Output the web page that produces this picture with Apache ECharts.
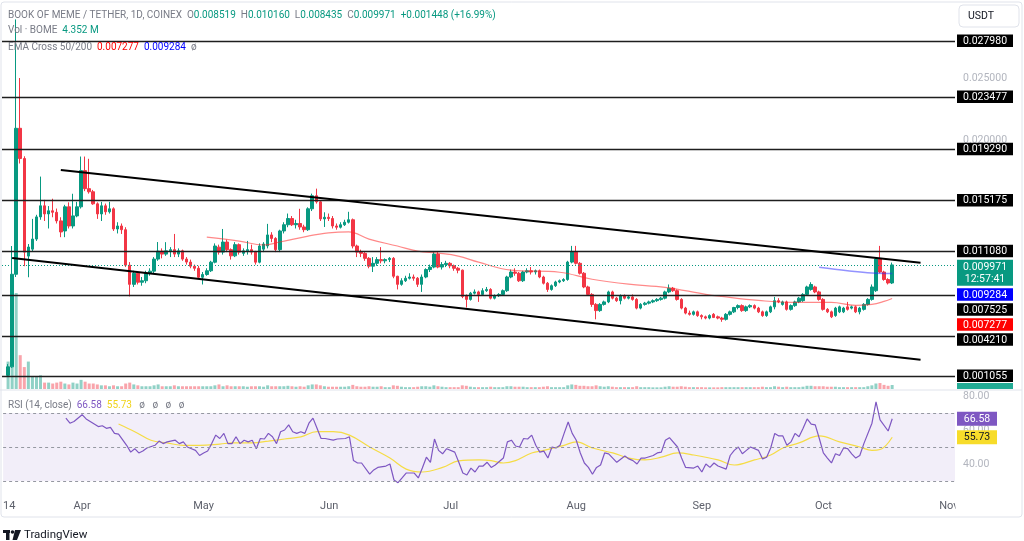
<!DOCTYPE html>
<html><head><meta charset="utf-8">
<script src="https://cdn.jsdelivr.net/npm/echarts@6/dist/echarts.min.js"></script>
<style>html,body{margin:0;padding:0;background:#fff}#c{width:1024px;height:541px}</style>
</head><body><div id="c"></div>
<script>
// ---------- DATA ----------
const firstDay = [2024, 2, 13];   // category axis starts 13 Mar 2024 (first candle 14 Mar)
const nCats = 235;                // through 2 Nov 2024
const dates = [];
for (let k = 0; k < nCats; k++) { dates.push(new Date(Date.UTC(firstDay[0], firstDay[1], firstDay[2] + k)).toISOString().slice(0, 10)); }

// daily candles [open, high, low, close], 14 Mar .. 18 Oct 2024
const candles = [
[0.00110,0.00200,0.00100,0.00178],[0.00178,0.01149,0.00170,0.00922],[0.00922,0.02970,0.00900,0.02095],[0.02095,0.02499,0.01812,0.01852],[0.01852,0.01870,0.00987,0.01100],
[0.01068,0.01165,0.00898,0.01141],[0.01124,0.01367,0.01108,0.01205],[0.01205,0.01400,0.01190,0.01383],[0.01383,0.01707,0.01360,0.01472],[0.01472,0.01520,0.01350,0.01407],
[0.01407,0.01470,0.01290,0.01432],[0.01432,0.01529,0.01380,0.01420],[0.01420,0.01450,0.01330,0.01351],[0.01351,0.01380,0.01220,0.01262],[0.01270,0.01480,0.01220,0.01464],
[0.01464,0.01500,0.01290,0.01310],[0.01310,0.01569,0.01290,0.01391],[0.01391,0.01504,0.01380,0.01464],[0.01464,0.01868,0.01450,0.01755],[0.01755,0.01868,0.01590,0.01610],
[0.01610,0.01850,0.01570,0.01585],[0.01585,0.01600,0.01480,0.01488],[0.01488,0.01500,0.01367,0.01407],[0.01407,0.01504,0.01350,0.01472],[0.01472,0.01490,0.01400,0.01424],
[0.01424,0.01504,0.01410,0.01448],[0.01448,0.01460,0.01270,0.01286],[0.01286,0.01340,0.01250,0.01310],[0.01310,0.01330,0.01246,0.01280],[0.01280,0.01300,0.00980,0.00995],
[0.00995,0.01020,0.00744,0.00841],[0.00841,0.00950,0.00820,0.00930],[0.00930,0.00940,0.00840,0.00858],[0.00858,0.00900,0.00830,0.00870],[0.00870,0.00950,0.00850,0.00930],
[0.00930,0.00970,0.00910,0.00947],[0.00947,0.01060,0.00930,0.01044],[0.01044,0.01181,0.01030,0.01108],[0.01108,0.01130,0.01050,0.01084],[0.01084,0.01180,0.01070,0.01110],
[0.01110,0.01140,0.01060,0.01120],[0.01120,0.01246,0.01060,0.01084],[0.01084,0.01130,0.01060,0.01110],[0.01110,0.01120,0.01030,0.01044],[0.01044,0.01060,0.01000,0.01020],
[0.01020,0.01040,0.00970,0.00987],[0.00987,0.01000,0.00950,0.00970],[0.00970,0.00990,0.00890,0.00898],[0.00898,0.00940,0.00840,0.00920],[0.00920,0.00970,0.00910,0.00950],
[0.00950,0.01030,0.00940,0.01019],[0.01019,0.01170,0.01010,0.01149],[0.01140,0.01160,0.01080,0.01100],[0.01100,0.01286,0.01080,0.01181],[0.01181,0.01200,0.01100,0.01120],
[0.01120,0.01130,0.01040,0.01070],[0.01070,0.01180,0.01060,0.01160],[0.01160,0.01170,0.01080,0.01100],[0.01090,0.01130,0.01070,0.01110],[0.01110,0.01190,0.01080,0.01120],
[0.01120,0.01160,0.01080,0.01100],[0.01100,0.01110,0.01000,0.01019],[0.01019,0.01170,0.01010,0.01149],[0.01124,0.01180,0.01100,0.01165],[0.01150,0.01327,0.01130,0.01238],
[0.01238,0.01260,0.01180,0.01210],[0.01210,0.01220,0.01100,0.01120],[0.01120,0.01280,0.01100,0.01270],[0.01270,0.01340,0.01250,0.01320],[0.01320,0.01410,0.01300,0.01370],
[0.01370,0.01390,0.01310,0.01320],[0.01320,0.01360,0.01290,0.01330],[0.01330,0.01448,0.01280,0.01302],[0.01302,0.01320,0.01260,0.01280],[0.01280,0.01460,0.01270,0.01448],
[0.01448,0.01570,0.01430,0.01553],[0.01553,0.01610,0.01490,0.01504],[0.01504,0.01510,0.01350,0.01367],[0.01367,0.01420,0.01302,0.01380],[0.01380,0.01410,0.01350,0.01370],
[0.01370,0.01390,0.01290,0.01310],[0.01310,0.01330,0.01280,0.01300],[0.01300,0.01340,0.01290,0.01320],[0.01320,0.01360,0.01310,0.01340],[0.01340,0.01424,0.01330,0.01360],
[0.01360,0.01370,0.01130,0.01149],[0.01149,0.01160,0.01060,0.01100],[0.01100,0.01120,0.01060,0.01090],[0.01090,0.01100,0.01030,0.01050],[0.01050,0.01060,0.00970,0.00987],
[0.00987,0.01060,0.00940,0.01010],[0.01010,0.01060,0.00990,0.01040],[0.01040,0.01140,0.01010,0.01030],[0.01030,0.01050,0.01010,0.01040],[0.01040,0.01060,0.01020,0.01050],
[0.01050,0.01060,0.00890,0.00906],[0.00906,0.00910,0.00800,0.00841],[0.00841,0.00890,0.00830,0.00870],[0.00870,0.00910,0.00860,0.00890],[0.00890,0.00930,0.00880,0.00900],
[0.00900,0.00920,0.00870,0.00890],[0.00890,0.00900,0.00820,0.00841],[0.00841,0.00920,0.00780,0.00900],[0.00900,0.00970,0.00890,0.00960],[0.00960,0.01000,0.00940,0.00980],
[0.00980,0.01100,0.00970,0.01084],[0.01084,0.01100,0.00970,0.00980],[0.00980,0.01020,0.00960,0.01000],[0.01000,0.01030,0.00980,0.01010],[0.01010,0.01020,0.00970,0.00990],
[0.00990,0.01000,0.00950,0.00970],[0.00970,0.00980,0.00930,0.00955],[0.00955,0.00960,0.00730,0.00744],[0.00750,0.00760,0.00655,0.00720],[0.00720,0.00780,0.00710,0.00770],
[0.00770,0.00800,0.00760,0.00780],[0.00780,0.00790,0.00700,0.00760],[0.00760,0.00810,0.00750,0.00790],[0.00790,0.00820,0.00780,0.00800],[0.00800,0.00810,0.00720,0.00730],
[0.00730,0.00760,0.00720,0.00750],[0.00750,0.00770,0.00740,0.00760],[0.00760,0.00800,0.00750,0.00790],[0.00790,0.00910,0.00780,0.00900],[0.00900,0.00960,0.00890,0.00940],
[0.00940,0.00970,0.00910,0.00930],[0.00930,0.00940,0.00860,0.00870],[0.00870,0.00950,0.00860,0.00940],[0.00940,0.00970,0.00930,0.00950],[0.00950,0.00980,0.00920,0.00940],
[0.00940,0.00960,0.00920,0.00950],[0.00950,0.00960,0.00890,0.00900],[0.00900,0.00910,0.00840,0.00850],[0.00850,0.00860,0.00780,0.00800],[0.00800,0.00840,0.00790,0.00830],
[0.00830,0.00870,0.00820,0.00860],[0.00860,0.00880,0.00850,0.00870],[0.00870,0.00890,0.00860,0.00880],[0.00880,0.01030,0.00870,0.01020],[0.01020,0.01150,0.01010,0.01100],
[0.01100,0.01150,0.01000,0.01010],[0.01010,0.01020,0.00920,0.00930],[0.00930,0.00940,0.00810,0.00820],[0.00820,0.00830,0.00750,0.00760],[0.00760,0.00770,0.00660,0.00680],
[0.00680,0.00690,0.00560,0.00630],[0.00630,0.00690,0.00620,0.00680],[0.00680,0.00710,0.00670,0.00700],[0.00700,0.00790,0.00690,0.00780],[0.00780,0.00790,0.00720,0.00730],
[0.00730,0.00740,0.00700,0.00710],[0.00710,0.00760,0.00680,0.00750],[0.00750,0.00760,0.00720,0.00730],[0.00730,0.00750,0.00720,0.00740],[0.00740,0.00760,0.00710,0.00720],
[0.00720,0.00730,0.00640,0.00650],[0.00650,0.00690,0.00640,0.00680],[0.00680,0.00700,0.00670,0.00690],[0.00690,0.00710,0.00680,0.00700],[0.00700,0.00720,0.00690,0.00710],
[0.00710,0.00730,0.00700,0.00720],[0.00720,0.00740,0.00710,0.00730],[0.00730,0.00790,0.00720,0.00780],[0.00780,0.00840,0.00770,0.00810],[0.00810,0.00820,0.00780,0.00790],
[0.00790,0.00800,0.00710,0.00720],[0.00720,0.00730,0.00640,0.00650],[0.00650,0.00660,0.00600,0.00610],[0.00610,0.00630,0.00590,0.00600],[0.00600,0.00630,0.00590,0.00620],
[0.00620,0.00630,0.00580,0.00590],[0.00590,0.00600,0.00560,0.00580],[0.00580,0.00590,0.00560,0.00570],[0.00570,0.00600,0.00560,0.00590],[0.00600,0.00610,0.00570,0.00575],
[0.00580,0.00590,0.00560,0.00570],[0.00570,0.00580,0.00540,0.00560],[0.00560,0.00610,0.00550,0.00600],[0.00600,0.00630,0.00590,0.00620],[0.00620,0.00660,0.00610,0.00655],
[0.00655,0.00680,0.00640,0.00670],[0.00670,0.00680,0.00620,0.00630],[0.00630,0.00670,0.00620,0.00660],[0.00660,0.00680,0.00650,0.00670],[0.00670,0.00680,0.00640,0.00650],
[0.00650,0.00660,0.00610,0.00620],[0.00620,0.00630,0.00580,0.00590],[0.00590,0.00630,0.00580,0.00620],[0.00620,0.00670,0.00610,0.00660],[0.00660,0.00740,0.00640,0.00710],
[0.00710,0.00730,0.00690,0.00700],[0.00680,0.00710,0.00670,0.00700],[0.00700,0.00710,0.00630,0.00640],[0.00640,0.00680,0.00630,0.00670],[0.00670,0.00710,0.00660,0.00700],
[0.00700,0.00740,0.00690,0.00730],[0.00710,0.00770,0.00700,0.00760],[0.00760,0.00830,0.00750,0.00820],[0.00800,0.00858,0.00790,0.00840],[0.00820,0.00830,0.00770,0.00780],
[0.00780,0.00790,0.00710,0.00720],[0.00720,0.00730,0.00630,0.00640],[0.00640,0.00650,0.00610,0.00620],[0.00620,0.00630,0.00570,0.00580],[0.00590,0.00660,0.00580,0.00650],
[0.00620,0.00670,0.00610,0.00660],[0.00620,0.00660,0.00610,0.00650],[0.00660,0.00700,0.00630,0.00640],[0.00650,0.00670,0.00640,0.00660],[0.00660,0.00670,0.00610,0.00620],
[0.00620,0.00660,0.00600,0.00650],[0.00640,0.00690,0.00630,0.00680],[0.00680,0.00730,0.00670,0.00720],[0.00720,0.00840,0.00710,0.00820],[0.00790,0.01060,0.00780,0.01044],
[0.01044,0.01150,0.00930,0.00940],[0.00940,0.00950,0.00870,0.00880],[0.00880,0.00890,0.00840,0.008519],[0.008519,0.010160,0.008435,0.009971]
];
// volume, millions of BOME
const volumes = [
30,24,105,37,24,30,14,14,15,7,7,6,7,8,6,5,7,6,10,
8,6,6,5,4,4,3,4,3,3,6,7,5,4,3,3,3,4,5,3,3,3,
4,3,3,3,3,3,3,3,3,3,4,5,3,4,3,3,3,3,2.5,3,
3,3,2.5,4,3,3,3,3,3.5,3,2.5,3,2.5,4,5,5,4,3,2.5,2.5,
2.5,2.5,2.5,3,4.5,3,2.5,2.5,3,2.5,2.5,3,2,2,4,3.5,2.5,2,2,2,
2.5,3,3,2.5,4,3,2.5,2,2,2,2,4,3.5,2.5,2,2,2,2,2.5,2,
2,2,3,3,2.5,2.5,2.5,2,2,2,2,2.5,3,2,2,2,2,4,5,4.5,
3.5,3.5,3,3,4,3,2.5,3,2.5,2,2,2,2,2,3,2,2,2,1.8,1.8,
1.8,2.5,3,2.5,2.5,3,2.5,2,2,2,2,1.8,1.8,1.8,1.8,2,2,2,2,2,
2,2,2,2,2,2.5,2,2,3,2.5,2,2.5,2,2,2,2.5,3.5,3.5,3,3,
3,2.5,2.5,2.5,2,2,2,2,2,2,2,3,4,6,6.5,4.5,3.5,4.352
];
// [candle index, value]
const ema50Pts = [[49,0.01221],[57,0.01189],[63,0.01157],[67,0.01181],[74,0.01229],[79,0.01254],[84,0.01262],[89,0.01205],[96,0.01149],[101,0.01108],[106,0.01092],[111,0.01068],[116,0.01019],[124,0.00955],[136,0.00938],[144,0.00882],[153,0.00842],[162,0.00817],[172,0.00761],[176,0.00744],[185,0.00712],[193,0.00696],[203,0.00696],[209,0.00672],[213,0.00680],[216,0.00704],[218,0.007277]];
const ema200Pts = [[200,0.00978],[207,0.00950],[213,0.00932],[218,0.009284]];
const rsiPts = [[14,67],[15,64],[16,65],[18,69],[19,66.5],[20,65],[22,62],[23,62.5],[24,61],[25,61.5],[26,58],[27,57.6],[29,51],[30,47],[31,49],[32,46.5],[33,47.6],[34,49.4],[36,51],[37,53.5],[38,52],[39,53],[41,54],[42,52],[43,53],[44,50],[45,49],[46,48],[47,45],[48,46.5],[49,47.6],[50,52],[51,57],[52,55],[53,58],[54,52],[55,52],[56,56],[57,52],[58,54],[59,53],[60,54],[61,49],[62,55],[63,54.7],[64,58],[65,56],[66,52],[67,59],[68,60],[69,63],[70,59],[71,58],[72,59],[73,58],[74,64],[75,67],[76,61],[77,55],[78,55],[80,54],[81,54.7],[83,55],[84,56],[85,42],[86,40.6],[87,40.6],[89,34],[90,36.5],[91,38],[93,38.8],[94,40],[95,30.6],[96,29],[97,31.8],[98,34.7],[100,34.7],[101,31.8],[102,37.6],[103,44],[104,41],[105,54.7],[106,48],[107,46],[108,49],[110,47],[111,41],[112,34.7],[113,33.5],[114,37.6],[115,35.3],[116,38.8],[117,38.8],[118,41],[119,38],[120,39.4],[122,43.5],[123,53],[124,54],[125,50.6],[126,50],[127,55],[128,54.7],[129,57],[130,51],[131,47],[132,47.6],[133,43.5],[134,50],[135,49.4],[136,51],[137,58],[138,64.7],[139,58],[140,54],[141,46.5],[142,40.6],[143,38],[144,34],[145,38],[146,39.4],[147,46.5],[148,46],[150,41],[152,44.7],[153,43],[154,42],[155,40],[156,43.5],[157,43.5],[159,45],[160,46.5],[161,47],[162,54],[163,55.5],[165,50],[166,43.5],[167,38],[169,37.6],[170,38.8],[171,35.3],[172,40],[173,38],[174,40.6],[175,38.8],[177,37],[178,45],[179,48],[180,50],[181,46],[182,48],[183,50],[185,48],[186,43],[187,44],[188,49.4],[189,58],[190,56.5],[191,56.5],[192,51],[193,53],[194,58],[195,56],[196,61],[197,66.5],[198,63.5],[199,63],[200,55],[201,46.5],[202,43.5],[203,40.6],[204,46],[205,45],[206,49.4],[207,49],[208,46],[209,43.5],[210,45],[211,52],[213,64],[214,76.5],[215,66],[217,59.4],[218,66.58]];
const rsiMaPts = [[27,63.5],[31,59],[35,54],[39,52.4],[43,51],[47,51],[52,51.7],[55,52.4],[60,52.4],[64,53.5],[68,54.7],[72,56],[76,59],[80,59],[84,57],[89,50],[94,43.5],[98,37],[102,35.3],[107,38],[111,41.8],[116,42.4],[119,42],[122,40.6],[125,42],[129,46.5],[132,48],[137,51],[140,53],[144,49.4],[149,46.5],[153,43.5],[157,42.4],[161,44],[165,46.5],[169,45.3],[175,42.4],[179,39.4],[184,42.4],[188,45.3],[191,49.4],[195,52.4],[200,56.5],[205,53],[210,50],[213,48],[215,48.5],[218,55.73]];
const levels = [0.027980, 0.023477, 0.019290, 0.015175, 0.011080, 0.007525, 0.004210, 0.001055];
const upperTrend = [[13,0.01760],[225,0.01014]];
const lowerTrend = [[1,0.01053],[225,0.002347]];
const lastPrice = 0.009971, ema50Last = 0.007277, ema200Last = 0.009284, rsiLast = 66.58, rsiMaLast = 55.73;
const countdown = '12:57:41';
const priceTicks = [0.025, 0.020];
const rsiTicks = [80, 60, 40];
const monthNames = ['Jan','Feb','Mar','Apr','May','Jun','Jul','Aug','Sep','Oct','Nov','Dec'];

// ---------- CHART ----------
const FONT = 'Roboto';
const UP = '#089981', DOWN = '#f23645';
const chart = echarts.init(document.getElementById('c'));
const GL = 2, GW = 953;
const kAt = i => i + 1; // candle index -> category index

const kData = dates.map((d, k) => { const c = candles[k - 1]; return c ? [c[0], c[3], c[2], c[1]] : '-'; });
const vData = dates.map((d, k) => { const c = candles[k - 1]; return c ? { value: volumes[k - 1], itemStyle: { color: c[3] >= c[0] ? 'rgba(8,153,129,0.45)' : 'rgba(242,54,69,0.45)' } } : '-'; });
function sparse(pts) { const a = new Array(nCats).fill(null); pts.forEach(p => { a[kAt(p[0])] = p[1]; }); return a; }
const trend = pts => pts.map(p => [dates[kAt(p[0])], p[1]]);

const option = {
  animation: false,
  backgroundColor: '#ffffff',
  grid: [{ left: GL, width: GW, top: 5, height: 384 }, { left: GL, width: GW, top: 391, height: 107 }],
  xAxis: [
    { type: 'category', data: dates, gridIndex: 0, boundaryGap: true, show: false },
    { type: 'category', data: dates, gridIndex: 1, boundaryGap: true,
      axisLine: { show: false }, axisTick: { show: false }, splitLine: { show: false },
      axisLabel: { interval: (i, v) => v === '2024-03-14' || v.slice(8) === '01', margin: 3,
        formatter: v => v === '2024-03-14' ? '14' : monthNames[+v.slice(5, 7) - 1],
        color: '#5d606b', fontSize: 11, fontFamily: FONT } }
  ],
  yAxis: [
    { type: 'value', gridIndex: 0, position: 'right', min: 0, max: 0.030858, interval: 0.005,
      axisLine: { show: false }, axisTick: { show: false }, splitLine: { show: false },
      axisLabel: { margin: 8, color: '#b2b5be', fontSize: 10.5, fontFamily: FONT,
        formatter: v => priceTicks.some(t => Math.abs(t - v) < 1e-9) ? v.toFixed(6) : '' } },
    { type: 'value', gridIndex: 0, min: 0, max: 420, show: false },
    { type: 'value', gridIndex: 1, position: 'right', min: 20, max: 82.94, interval: 20,
      axisLine: { show: false }, axisTick: { show: false }, splitLine: { show: false },
      axisLabel: { margin: 8, color: '#b2b5be', fontSize: 10.5, fontFamily: FONT,
        formatter: v => rsiTicks.indexOf(v) >= 0 ? v.toFixed(2) : '' } }
  ],
  series: [
    { type: 'bar', name: 'vol', xAxisIndex: 0, yAxisIndex: 1, data: vData, barWidth: 3, z: 1, silent: true },
    { type: 'candlestick', xAxisIndex: 0, yAxisIndex: 0, data: kData, barWidth: 3, z: 3,
      itemStyle: { color: UP, color0: DOWN, borderColor: UP, borderColor0: DOWN, borderWidth: 1 },
      markLine: { silent: true, symbol: 'none', animation: false, precision: 6, label: { show: false },
        data: levels.map(v => ({ yAxis: v, lineStyle: { color: '#1e1e1e', width: 1.3, type: 'solid' } }))
          .concat([{ yAxis: lastPrice, lineStyle: { color: UP, width: 1, type: [1, 2] } }]) } },
    { type: 'line', xAxisIndex: 0, yAxisIndex: 0, data: sparse(ema50Pts), connectNulls: true, smooth: 0.4, showSymbol: false,
      lineStyle: { color: 'rgba(255,40,40,0.55)', width: 1.2 }, z: 4, silent: true },
    { type: 'line', xAxisIndex: 0, yAxisIndex: 0, data: sparse(ema200Pts), connectNulls: true, smooth: 0.4, showSymbol: false,
      lineStyle: { color: 'rgba(40,40,255,0.5)', width: 1.5 }, z: 4, silent: true },
    { type: 'line', xAxisIndex: 0, yAxisIndex: 0, data: trend(upperTrend), showSymbol: false, lineStyle: { color: '#000', width: 2 }, z: 5, silent: true },
    { type: 'line', xAxisIndex: 0, yAxisIndex: 0, data: trend(lowerTrend), showSymbol: false, lineStyle: { color: '#000', width: 2 }, z: 5, silent: true },
    { type: 'line', xAxisIndex: 1, yAxisIndex: 2, data: sparse(rsiPts), connectNulls: true, showSymbol: false,
      lineStyle: { color: '#7e57c2', width: 1.2 }, z: 4, silent: true,
      markArea: { silent: true, itemStyle: { color: 'rgba(126,87,194,0.1)' }, data: [[{ yAxis: 30 }, { yAxis: 70 }]] },
      markLine: { silent: true, symbol: 'none', precision: 2, label: { show: false }, lineStyle: { color: '#9598a1', width: 1, type: [3, 3] },
        data: [{ yAxis: 70 }, { yAxis: 50 }, { yAxis: 30 }] } },
    { type: 'line', xAxisIndex: 1, yAxisIndex: 2, data: sparse(rsiMaPts), connectNulls: true, smooth: 0.4, showSymbol: false,
      lineStyle: { color: '#f5dc45', width: 1.2 }, z: 3, silent: true }
  ]
};
chart.setOption(option);

// ---------- right-hand labels (positions from the axis scales) ----------
const g = [];
function box(top, h, w, bg, text, fg, cy) {
  g.push({ type: 'rect', z: 100, shape: { x: 957, y: top, width: w, height: h }, style: { fill: bg } });
  g.push({ type: 'text', z: 101, x: 957 + w / 2, y: cy, style: { text: text, fill: fg, fontSize: 10.5, fontFamily: FONT, align: 'center', verticalAlign: 'middle', lineHeight: 12 } });
}
const defs = levels.map(v => ({ v: v, bg: '#000', fg: '#fff', text: v.toFixed(6), h: 12.5 }))
  .concat([{ v: lastPrice, bg: UP, fg: '#fff', text: lastPrice.toFixed(6) + '\n' + countdown, h: 26, price: true },
           { v: ema200Last, bg: '#0000ff', fg: '#fff', text: ema200Last.toFixed(6), h: 12.5 },
           { v: ema50Last, bg: '#ff0000', fg: '#fff', text: ema50Last.toFixed(6), h: 12.5 }]);
defs.forEach(d => { d.y = chart.convertToPixel({ yAxisIndex: 0 }, d.v); d.top = d.price ? d.y - 7 : d.y - d.h / 2; });
defs.sort((a, b) => a.y - b.y);
let prevBottom = -100;
defs.forEach(d => { d.top = Math.max(d.top, prevBottom + 2.5); prevBottom = d.top + d.h; box(d.top, d.h, 56, d.bg, d.text, d.fg, d.top + d.h / 2 + 0.5); });
// volume value tag (cut by the pane edge)
g.push({ type: 'rect', z: 100, shape: { x: 957, y: 383, width: 56, height: 6 }, style: { fill: '#22ab94' } });
// RSI value tags
[[rsiLast, '#7e57c2', '#fff'], [rsiMaLast, '#f7dc2a', '#131722']].forEach(r => {
  const y = chart.convertToPixel({ yAxisIndex: 2 }, r[0]);
  box(y - 7, 14, 40, r[1], r[0].toFixed(2), r[2], y + 0.5);
});

// ---------- legends / chrome ----------
const gray = '#787b86';
const rich = (sz) => ({ g: { fill: gray, fontSize: sz, fontFamily: FONT }, n: { fill: UP, fontSize: sz, fontFamily: FONT },
  r: { fill: '#ff0000', fontSize: sz, fontFamily: FONT }, b: { fill: '#0000ff', fontSize: sz, fontFamily: FONT },
  p: { fill: '#7e57c2', fontSize: sz, fontFamily: FONT }, y: { fill: '#f0d31a', fontSize: sz, fontFamily: FONT } });
g.push({ type: 'text', z: 110, x: 8, y: 15, style: { text: '{g|BOOK OF MEME / TETHER, 1D, COINEX  O}{n|0.008519}{g|  H}{n|0.010160}{g|  L}{n|0.008435}{g|  C}{n|0.009971}{n|  +0.001448 (+16.99%)}', rich: rich(10), verticalAlign: 'middle' } });
g.push({ type: 'text', z: 110, x: 8, y: 30, style: { text: '{g|Vol · BOME  }{n|4.352 M}', rich: rich(10), verticalAlign: 'middle' } });
g.push({ type: 'text', z: 110, x: 8, y: 47, style: { text: '{g|EMA Cross 50/200  }{r|0.007277}{g|  }{b|0.009284}{g|  ø}', rich: rich(10), verticalAlign: 'middle' } });
g.push({ type: 'text', z: 110, x: 8, y: 405, style: { text: '{g|RSI (14, close)  }{p|66.58}{g|  }{y|55.73}{g|   ø   ø   ø   ø}', rich: rich(10), verticalAlign: 'middle' } });
// currency button
g.push({ type: 'rect', z: 110, shape: { x: 959, y: 5, width: 60, height: 22, r: 4 }, style: { fill: '#fff', stroke: '#e0e3eb', lineWidth: 1 } });
g.push({ type: 'text', z: 111, x: 968, y: 16, style: { text: 'USDT', fill: '#131722', fontSize: 10.5, fontFamily: FONT, verticalAlign: 'middle' } });
// pane separator and frame
g.push({ type: 'line', z: 90, shape: { x1: 0, y1: 390, x2: 1022, y2: 390 }, style: { stroke: '#e0e3eb', lineWidth: 1 } });
g.push({ type: 'rect', z: 90, shape: { x: 955.5, y: 496, width: 66, height: 18 }, style: { fill: '#fff' } });
g.push({ type: 'rect', z: 90, shape: { x: 1, y: 2, width: 1021, height: 515, r: 3 }, style: { fill: 'none', stroke: '#e0e3eb', lineWidth: 1 } });
// TradingView mark
g.push({ type: 'rect', z: 110, shape: { x: 3, y: 530, width: 7, height: 3 }, style: { fill: '#131722' } });
g.push({ type: 'rect', z: 110, shape: { x: 6, y: 530, width: 3.5, height: 10 }, style: { fill: '#131722' } });
g.push({ type: 'circle', z: 110, shape: { cx: 12.5, cy: 532, r: 1.8 }, style: { fill: '#131722' } });
g.push({ type: 'polygon', z: 110, shape: { points: [[15, 530], [21, 530], [17, 540], [12.5, 540]] }, style: { fill: '#131722' } });
g.push({ type: 'text', z: 110, x: 24, y: 535, style: { text: 'TradingView', fill: '#131722', fontSize: 11.5, fontFamily: FONT, verticalAlign: 'middle' } });

chart.setOption({ graphic: { elements: g } });
</script>
</body></html>
